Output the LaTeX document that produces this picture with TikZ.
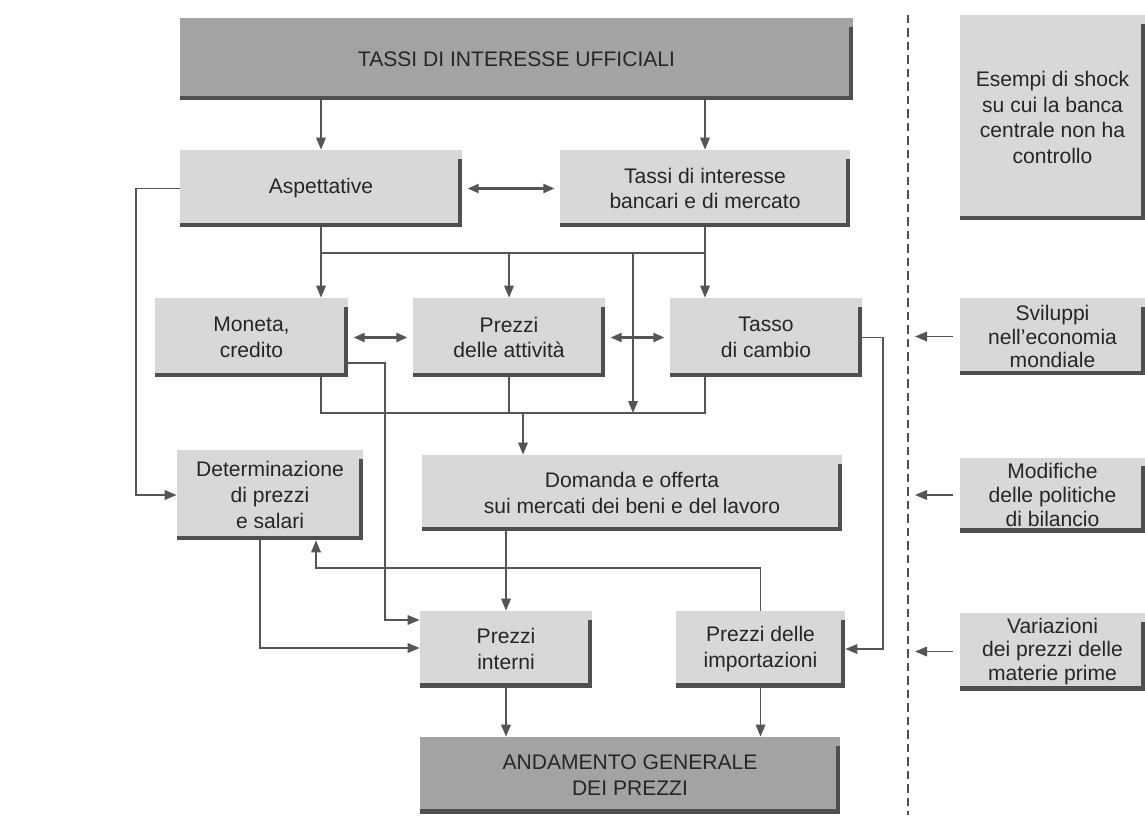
\documentclass[tikz,border=0pt]{standalone}
\usepackage{fontspec}
\setmainfont{Liberation Sans}
\usetikzlibrary{positioning,calc,arrows.meta}
\definecolor{boxfill}{HTML}{D8D8D8}
\definecolor{darkfill}{HTML}{A3A3A3}
\definecolor{boxshadow}{HTML}{4F4F4F}
\definecolor{linegray}{HTML}{555555}
\definecolor{textgray}{HTML}{262626}
\tikzset{
  mon box/.style={rectangle, fill=boxfill, text=textgray, align=center, inner sep=1pt,
    font=\fontsize{12}{14.6}\selectfont,
    path picture={\draw[line width=5pt, boxshadow] (path picture bounding box.south west) -- (path picture bounding box.south east) -- ([yshift=-5pt]path picture bounding box.north east);}},
  mon shock/.style={mon box, minimum width=3.7cm, minimum height=1.54cm, font=\fontsize{12}{13.6}\selectfont},
  mon dark/.style={mon box, fill=darkfill},
  mon line/.style={draw=linegray, line width=1pt},
  mon arrow/.style={mon line, -{Triangle[length=0.24cm,width=0.19cm]}},
  mon both/.style={mon line, line width=1.2pt, {Triangle[length=0.22cm,width=0.18cm]}-{Triangle[length=0.22cm,width=0.18cm]}, shorten <=3pt, shorten >=3pt}
}
\begin{document}
\begin{tikzpicture}[x=0.02cm, y=-0.02cm]
    \useasboundingbox (0,0) rectangle (1145,838);

    % Policy side
    \node [mon dark, minimum width=13.46cm, minimum height=1.64cm] (ufficiali) at (516.5,59) {TASSI DI INTERESSE UFFICIALI};
    \node [mon box, minimum width=5.64cm, minimum height=1.54cm] (asp) at (321,188.5) {Aspettative};
    \node [mon box, minimum width=5.8cm, minimum height=1.54cm] (tassib) at (705,188.5) {Tassi di interesse\\bancari e di mercato};

    % Transmission channels
    \node [mon box, minimum width=3.86cm, minimum height=1.58cm] (moneta) at (251.5,337.5) {Moneta,\\credito};
    \node [mon box, minimum width=3.84cm, minimum height=1.58cm] (attivita) at (509,337.5) {Prezzi\\delle attività};
    \node [mon box, minimum width=3.84cm, minimum height=1.58cm] (cambio) at (766,337.5) {Tasso\\di cambio};
    \node [mon box, minimum width=3.72cm, minimum height=1.8cm] (determ) at (270,495) {Determinazione\\di prezzi\\e salari};
    \node [mon box, minimum width=8.4cm, minimum height=1.52cm] (domanda) at (632,493) {Domanda e offerta\\sui mercati dei beni e del lavoro};
    \node [mon box, minimum width=3.44cm, minimum height=1.52cm] (interni) at (506,649) {Prezzi\\interni};
    \node [mon box, minimum width=3.38cm, minimum height=1.52cm] (import) at (760.5,649) {Prezzi delle\\importazioni};
    \node [mon dark, minimum width=8.4cm, minimum height=1.52cm] (andamento) at (630,775) {ANDAMENTO GENERALE\\DEI PREZZI};

    % Shocks
    \node [mon box, minimum width=3.7cm, minimum height=4.1cm] (esempi) at (1052.5,117.5) {Esempi di shock\\su cui la banca\\centrale non ha\\controllo};
    \node [mon shock] (sviluppi) at (1052.5,336.5) {Sviluppi\\nell'economia\\mondiale};
    \node [mon shock, minimum height=1.5cm] (modifiche) at (1052.5,495) {Modifiche\\delle politiche\\di bilancio};
    \node [mon shock] (variazioni) at (1052.5,651.5) {Variazioni\\dei prezzi delle\\materie prime};

    % Turning points
    \coordinate (upbus) at (0,253);
    \coordinate (lowbus) at (0,413);
    \coordinate (midline) at (633,253);
    \coordinate (domin) at (523,413);
    \coordinate (monturn) at (385,363);
    \coordinate (camturn) at (883,337);
    \coordinate (leftturn) at (136,0);
    \coordinate (feedturn) at (316,568);
    \coordinate (detturn) at (260,648);
    \coordinate (intin) at (0,620);
    \coordinate (dashtop) at (908,15);
    \coordinate (dashbot) at (908,815);
    \coordinate (dashin) at (915,0);

    % Connections
    \draw [mon arrow] (ufficiali.south -| asp) -- (asp.north);
    \draw [mon arrow] (ufficiali.south -| tassib) -- (tassib.north);
    \draw [mon both] (asp) -- (tassib);
    \draw [mon line] (asp.south) |- (upbus -| tassib.south);
    \draw [mon arrow] (asp.south |- upbus) -- (asp.south |- moneta.north);
    \draw [mon arrow] (attivita.north |- upbus) -- (attivita.north);
    \draw [mon arrow] (tassib.south) -- (tassib.south |- cambio.north);
    \draw [mon arrow] (midline) -- (midline |- lowbus);
    \draw [mon both] (moneta) -- (attivita);
    \draw [mon both] (attivita) -- (cambio);
    \draw [mon line] (moneta.south -| asp.south) |- (lowbus -| tassib.south) -- (cambio.south -| tassib.south);
    \draw [mon line] (attivita.south) -- (attivita.south |- lowbus);
    \draw [mon arrow] (domin) -- (domin |- domanda.north);
    \draw [mon arrow] (moneta.east |- monturn) -- (monturn) |- (interni.west |- intin);
    \draw [mon arrow] (cambio.east) -- (cambio.east -| camturn) |- (import.east);
    \draw [mon arrow] (asp.west) -| (leftturn |- determ.west) -- (determ.west);
    \draw [mon arrow] (domanda.south -| interni.north) -- (interni.north);
    \draw [mon arrow] (import.north) |- (feedturn) -- (feedturn |- determ.south);
    \draw [mon arrow] (determ.south -| detturn) |- (interni.west |- detturn);
    \draw [mon arrow] (interni.south) -- (interni.south |- andamento.north);
    \draw [mon arrow] (import.south) -- (import.south |- andamento.north);

    % Outside shocks
    \draw [draw=boxshadow, line width=1.5pt, dash pattern=on 0.17cm off 0.1cm] (dashtop) -- (dashbot);
    \draw [mon arrow, shorten <=4pt] (sviluppi.west) -- (sviluppi.west -| dashin);
    \draw [mon arrow, shorten <=4pt] (modifiche.west) -- (modifiche.west -| dashin);
    \draw [mon arrow, shorten <=4pt] (variazioni.west) -- (variazioni.west -| dashin);
\end{tikzpicture}
\end{document}
